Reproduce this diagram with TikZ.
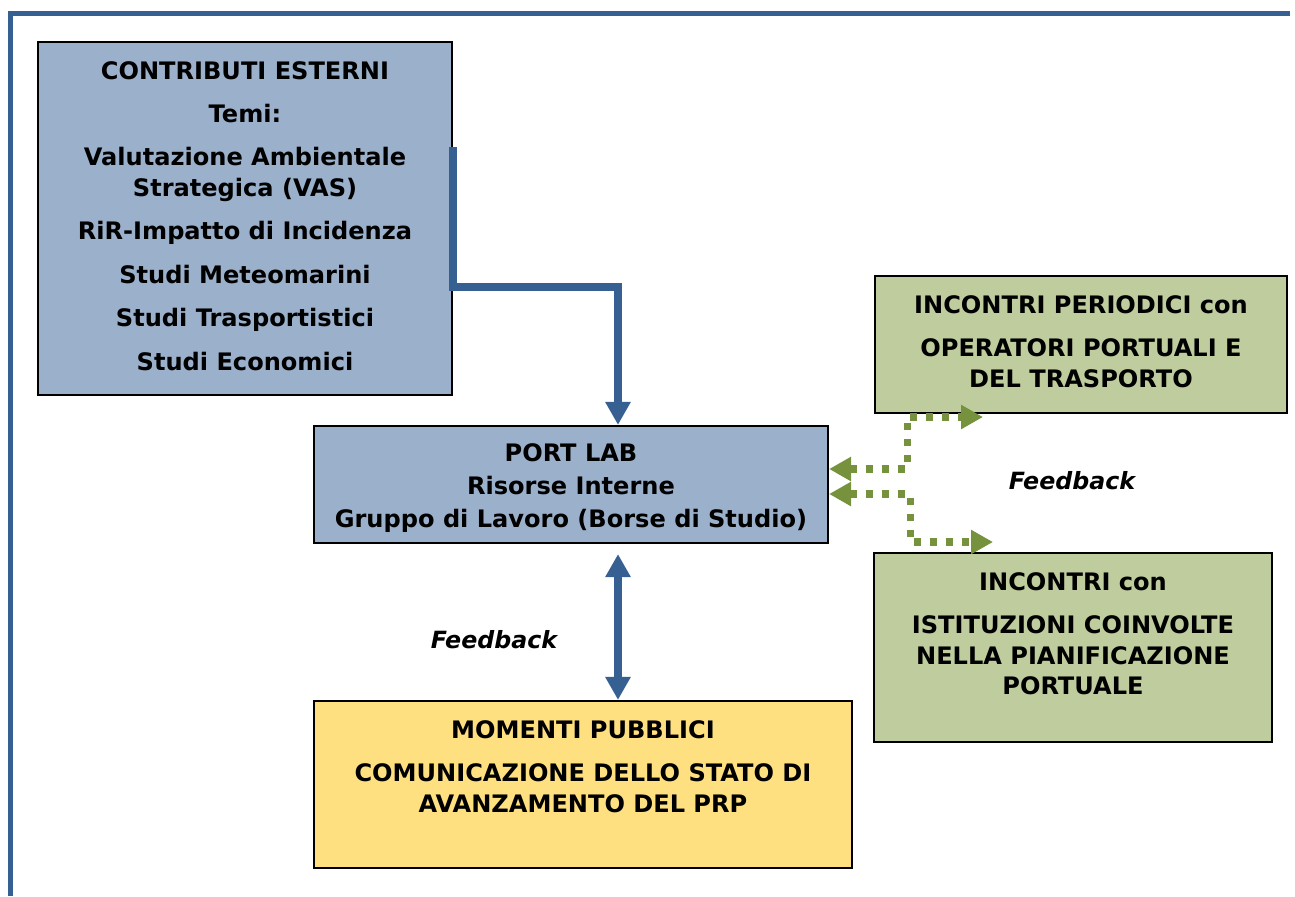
\documentclass[tikz,border=0pt]{standalone}
\usepackage{fontspec}
\setmainfont{DejaVu Sans}
\usetikzlibrary{arrows.meta}

\definecolor{boxblue}{RGB}{155,176,203}
\definecolor{boxgreen}{RGB}{190,204,158}
\definecolor{boxyellow}{RGB}{255,224,128}
\definecolor{linkblue}{RGB}{54,96,146}
\definecolor{linkgreen}{RGB}{118,146,60}

\tikzset{
  box/.style={draw=black, line width=1.2pt, inner sep=0pt},
  bluebox/.style={box, fill=boxblue},
  greenbox/.style={box, fill=boxgreen},
  yellowbox/.style={box, fill=boxyellow},
  boxtext/.style={anchor=north, align=center, inner sep=0pt,
    font=\fontsize{13.7}{17.4}\selectfont\bfseries},
  feedback/.style={font=\fontsize{13.5}{16}\selectfont\bfseries\itshape},
  bluelink/.style={draw=linkblue, line width=4.3pt,
    -{Triangle[width=0.48cm,length=0.46cm]}},
  greenlink/.style={draw=linkgreen, line width=4pt, dash pattern=on 0.14cm off 0.18cm,
    {Triangle[width=0.46cm,length=0.44cm]}-{Triangle[width=0.46cm,length=0.44cm]}}
}

\begin{document}
\begin{tikzpicture}
\useasboundingbox (0,0) rectangle (25.9,-17.92);

% page frame
\draw[linkblue, line width=2.85pt] (0.21,-17.92) -- (0.21,-0.27) -- (25.8,-0.27);

% boxes
\node[bluebox, minimum width=8.28cm, minimum height=7.06cm] (contrib) at (4.90,-4.37) {};
\node[bluebox, minimum width=10.28cm, minimum height=2.34cm] (portlab) at (11.42,-9.69) {};
\node[greenbox, minimum width=8.24cm, minimum height=2.74cm] (periodici) at (21.62,-6.89) {};
\node[greenbox, minimum width=7.96cm, minimum height=3.78cm] (istituzioni) at (21.46,-12.95) {};
\node[yellowbox, minimum width=10.76cm, minimum height=3.34cm] (momenti) at (11.66,-15.69) {};

% texts
\node[boxtext] (contribtxt) at ([yshift=-0.40cm]contrib.north) {CONTRIBUTI ESTERNI\\[7.3pt]
  Temi:\\[7.3pt]
  Valutazione Ambientale\\
  Strategica (VAS)\\[7.3pt]
  RiR-Impatto di Incidenza\\[7.3pt]
  Studi Meteomarini\\[7.3pt]
  Studi Trasportistici\\[7.3pt]
  Studi Economici};
\node[boxtext] (portlabtxt) at ([yshift=-0.37cm]portlab.north) {PORT LAB\\[1.3pt]
  Risorse Interne\\[1.3pt]
  Gruppo di Lavoro (Borse di Studio)};
\node[boxtext] (periodicitxt) at ([yshift=-0.40cm]periodici.north) {INCONTRI PERIODICI con\\[7.4pt]
  OPERATORI PORTUALI E\\
  DEL TRASPORTO};
\node[boxtext] (istituzionitxt) at ([yshift=-0.40cm]istituzioni.north) {INCONTRI con\\[7.4pt]
  ISTITUZIONI COINVOLTE\\
  NELLA PIANIFICAZIONE\\
  PORTUALE};
\node[boxtext] (momentitxt) at ([yshift=-0.40cm]momenti.north) {MOMENTI PUBBLICI\\[7.4pt]
  COMUNICAZIONE DELLO STATO DI\\
  AVANZAMENTO DEL PRP};

\node[feedback] (fbright) at (21.44,-9.62) {Feedback};
\node[feedback] (fbleft) at (9.88,-12.80) {Feedback};

% blue connectors
\coordinate (bend) at (12.36,-5.74);
\draw[bluelink] ([yshift=-2.12cm]contrib.north east) |- (bend) -- ([xshift=0.94cm]portlab.north);
\draw[bluelink, {Triangle[width=0.48cm,length=0.46cm]}-{Triangle[width=0.48cm,length=0.46cm]}]
  ([xshift=0.94cm,yshift=-0.2cm]portlab.south) -- ([xshift=0.70cm]momenti.north);

% green feedback connectors
\coordinate (upend) at (19.66,-8.34);
\coordinate (downend) at (19.86,-10.84);
\draw[greenlink] ([yshift=0.31cm]portlab.east) -| ([xshift=-1.52cm]upend) -- (upend);
\draw[greenlink] ([yshift=-0.19cm]portlab.east) -| ([xshift=-1.66cm]downend) -- (downend);
\end{tikzpicture}
\end{document}
